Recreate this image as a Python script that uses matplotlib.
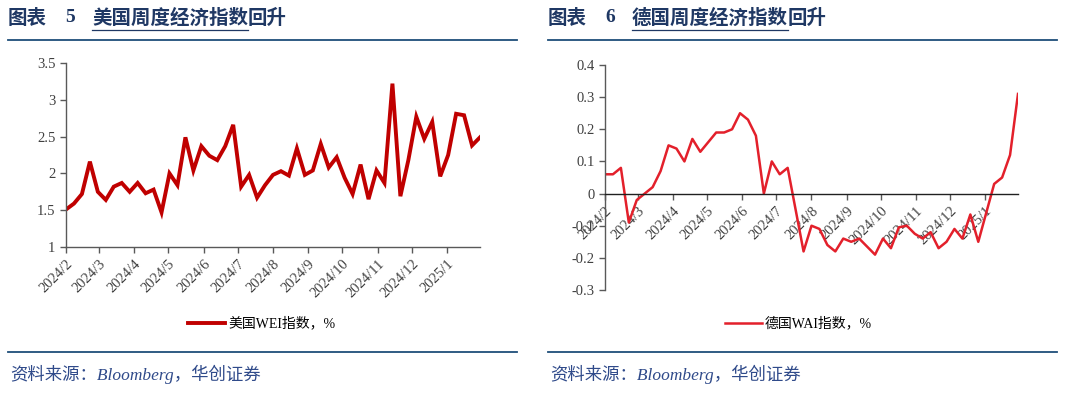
import numpy as np
import pandas as pd
import matplotlib
matplotlib.use("Agg")
import matplotlib.pyplot as plt
import matplotlib.dates as mdates
from matplotlib.lines import Line2D
from matplotlib.ticker import FuncFormatter, MultipleLocator

# weekly observations, Feb 2024 - Jan 2025
dates = pd.date_range("2024-02-01", periods=53, freq="7D")

us_wei = [1.51, 1.59, 1.72, 2.16, 1.75, 1.64, 1.82, 1.87, 1.75, 1.87,
          1.73, 1.78, 1.47, 2.00, 1.84, 2.49, 2.04, 2.37, 2.24, 2.18,
          2.37, 2.66, 1.82, 1.98, 1.67, 1.84, 1.98, 2.03, 1.97, 2.34,
          1.98, 2.04, 2.40, 2.08, 2.22, 1.94, 1.72, 2.12, 1.65, 2.04,
          1.87, 3.22, 1.69, 2.18, 2.77, 2.47, 2.70, 1.96, 2.25, 2.81,
          2.79, 2.38, 2.49]

de_wai = [0.06, 0.06, 0.08, -0.09, -0.02, 0.00, 0.02, 0.07, 0.15, 0.14,
          0.10, 0.17, 0.13, 0.16, 0.19, 0.19, 0.20, 0.25, 0.23, 0.18,
          0.00, 0.10, 0.06, 0.08, -0.05, -0.18, -0.10, -0.11, -0.16, -0.18,
          -0.14, -0.15, -0.14, -0.165, -0.19, -0.14, -0.17, -0.105, -0.10, -0.125,
          -0.14, -0.12, -0.17, -0.15, -0.11, -0.14, -0.065, -0.15, -0.06, 0.03,
          0.05, 0.12, 0.31]

titles = [("图表", "5", "美国周度经济指数", "回升"), ("图表", "6", "德国周度经济指数", "回升")]
legend_labels = ["美国WEI指数，%", "德国WAI指数，%"]
source = "资料来源：Bloomberg，华创证券"

SERIF = ["Liberation Serif", "Noto Sans CJK SC"]
NAVY = "#1F3864"
RULE = "#1F4E79"
AXIS = "#595959"

W, H = 1080, 393
fig = plt.figure(figsize=(10.8, 3.93), dpi=100)


def fx(px):
    return px / W


def fy(py):
    return 1 - py / H


def month_fmt(x, pos):
    d = mdates.num2date(x)
    return f"{d.year}/{d.month}"


def style_axes(ax):
    for s in ["top", "right"]:
        ax.spines[s].set_visible(False)
    for s in ["left", "bottom"]:
        ax.spines[s].set_color(AXIS)
        ax.spines[s].set_linewidth(1.0)
    ax.xaxis.set_major_locator(mdates.MonthLocator())
    ax.xaxis.set_major_formatter(FuncFormatter(month_fmt))
    ax.yaxis.set_major_formatter(FuncFormatter(lambda v, p: f"{v:g}"))
    ax.tick_params(direction="out", length=4, width=1, color=AXIS,
                   labelsize=10.5, labelcolor="#404040")
    for lab in ax.get_xticklabels() + ax.get_yticklabels():
        lab.set_fontfamily(SERIF)
    for lab in ax.get_xticklabels():
        lab.set_rotation(45)
        lab.set_ha("right")
        lab.set_rotation_mode("anchor")
    ax.set_xlim(dates[0], dates[-1])


# left panel: US WEI
ax1 = fig.add_axes([fx(66), fy(247), fx(480) - fx(66), fy(63) - fy(247)])
ax1.plot(dates, us_wei, color="#C00000", lw=2.8, solid_joinstyle="miter")
ax1.set_ylim(1, 3.5)
ax1.yaxis.set_major_locator(MultipleLocator(0.5))
style_axes(ax1)

# right panel: German WAI
ax2 = fig.add_axes([fx(605), fy(290), fx(1018) - fx(605), fy(65) - fy(290)])
ax2.plot(dates, de_wai, color="#E3202B", lw=1.8)
ax2.set_ylim(-0.3, 0.4)
ax2.yaxis.set_major_locator(MultipleLocator(0.1))
ax2.spines["bottom"].set_position(("data", 0))
style_axes(ax2)
ax2.spines["bottom"].set_color("#202020")

# headers, rules, legends, sources
fig.canvas.draw()
renderer = fig.canvas.get_renderer()
panels = [(8, 92, 517, 188, "#C00000", 2.8), (548, 632, 1057, 725, "#E3202B", 1.8)]
for (x0, x1, x2, lx, col, lw), (t0, num, t2, t3), lab in zip(panels, titles, legend_labels):
    kw = dict(fontsize=14, fontweight="bold", color=NAVY, family=SERIF, va="center")
    fig.text(fx(x0), fy(18), t0, **kw)
    fig.text(fx(x0 + 57), fy(18), num, **kw)
    mid = fig.text(fx(x1), fy(18), t2, **kw)
    bb = mid.get_window_extent(renderer)
    fig.text(bb.x1 / W, fy(18), t3, **kw)
    # underline of the linked part of the title
    fig.add_artist(Line2D([bb.x0 / W, bb.x1 / W], [fy(30), fy(30)],
                          transform=fig.transFigure, color=NAVY, lw=0.9))
    fig.add_artist(Line2D([fx(x0), fx(x2)], [fy(40), fy(40)],
                          transform=fig.transFigure, color=RULE, lw=1.3))
    fig.add_artist(Line2D([fx(x0), fx(x2)], [fy(352), fy(352)],
                          transform=fig.transFigure, color=RULE, lw=1.3))
    fig.add_artist(Line2D([fx(lx), fx(lx + 37)], [fy(323), fy(323)],
                          transform=fig.transFigure, color=col, lw=lw))
    fig.text(fx(lx + 40), fy(323), lab, fontsize=10, color="#000000",
             family=SERIF, va="center")
    fig.text(fx(x0 + 2), fy(374), source, fontsize=12.5, color="#2F4A8A",
             family=SERIF, style="italic", va="center")

fig.savefig("out.png", dpi=100)
